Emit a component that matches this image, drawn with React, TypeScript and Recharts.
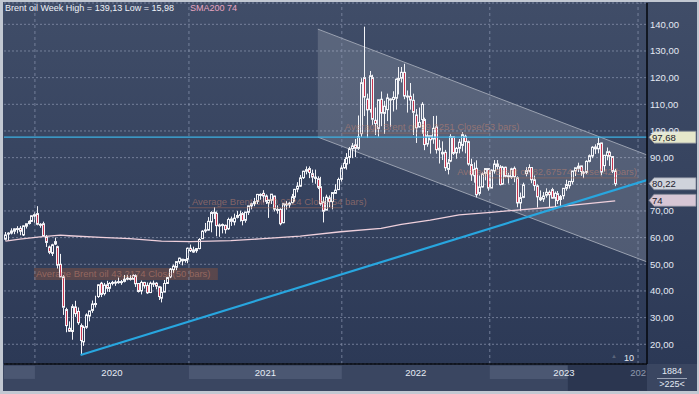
import React from 'react';
import {
  ComposedChart, Bar, Line, Area, XAxis, YAxis, CartesianGrid, ReferenceLine, ReferenceArea,
} from 'recharts';

// weekly candles [open, high, low, close], first week = 21 Oct 2019
const W2019 = [
  [59.4, 62.1, 58.9, 61.0], [61.5, 62.0, 58.9, 61.7], [61.7, 63.5, 61.2, 62.5], [62.4, 63.5, 61.3, 63.3],
  [63.3, 64.3, 61.6, 63.4], [63.5, 64.4, 60.9, 62.4], [61.0, 64.6, 60.6, 64.4], [64.3, 65.3, 63.4, 65.2],
  [65.3, 66.5, 64.9, 66.1], [66.1, 68.3, 65.9, 68.2], [68.1, 69.5, 65.6, 68.6],
];
const W2020 = [
  [69.0, 71.8, 64.6, 65.0], [65.0, 65.4, 63.7, 64.9], [65.2, 66.0, 60.3, 60.7], [60.2, 61.0, 56.5, 58.2],
  [56.5, 57.0, 53.8, 54.5], [54.1, 57.7, 53.1, 57.3], [57.6, 60.0, 57.2, 58.5], [56.6, 57.0, 48.4, 49.7],
  [50.0, 53.9, 45.2, 45.3], [45.3, 45.9, 31.0, 33.9], [33.0, 33.7, 24.5, 27.0], [26.0, 28.6, 24.6, 24.9],
  [24.8, 35.0, 21.7, 34.1], [34.0, 36.3, 30.3, 31.5], [32.3, 33.8, 27.3, 28.1], [27.0, 27.8, 15.98, 21.4],
  [20.9, 27.0, 19.4, 26.4], [26.4, 31.6, 25.8, 31.0], [30.6, 32.6, 28.6, 32.5], [32.7, 36.4, 31.8, 35.1],
  [34.9, 38.2, 33.8, 35.3], [37.9, 42.5, 37.4, 42.3], [42.9, 43.4, 37.7, 38.7], [39.0, 43.0, 38.3, 42.2],
  [42.3, 43.8, 39.7, 41.0], [41.0, 43.3, 39.6, 42.8], [42.9, 43.8, 42.1, 43.2], [43.3, 44.0, 41.9, 43.1],
  [43.5, 45.0, 42.7, 43.3], [43.3, 44.1, 42.3, 43.5], [43.6, 46.0, 43.2, 44.4], [44.8, 45.9, 44.0, 44.8],
  [44.7, 45.9, 43.9, 44.4], [44.4, 46.2, 44.3, 45.8], [45.7, 46.2, 41.5, 42.7], [42.8, 42.9, 39.4, 39.8],
  [40.0, 43.9, 38.7, 43.2], [43.2, 43.4, 40.9, 41.9], [42.1, 43.2, 38.9, 39.3], [39.4, 43.5, 39.2, 42.9],
  [42.9, 43.9, 41.5, 42.9], [42.9, 43.3, 40.6, 41.8], [41.6, 41.9, 36.6, 37.9], [37.3, 41.6, 35.7, 39.5],
  [39.6, 44.1, 39.5, 42.8], [42.8, 45.3, 42.6, 45.0], [45.3, 48.6, 44.8, 48.2], [48.0, 49.9, 46.7, 49.3],
  [48.9, 50.8, 47.8, 51.0], [50.9, 52.5, 50.1, 52.3], [51.9, 52.0, 49.6, 51.3], [51.4, 51.9, 50.6, 51.8],
];
const W2021 = [
  [51.8, 56.3, 50.4, 56.0], [56.0, 57.4, 54.6, 55.1], [54.6, 56.6, 54.3, 55.4], [55.1, 56.1, 54.3, 55.9],
  [55.9, 59.8, 55.6, 59.3], [59.6, 62.8, 59.6, 62.4], [62.8, 65.5, 61.8, 62.9], [62.8, 67.7, 62.6, 66.1],
  [65.9, 69.9, 62.0, 69.4], [69.5, 71.4, 67.0, 69.2], [69.1, 69.8, 60.5, 64.5], [64.7, 65.3, 60.3, 64.6],
  [64.7, 65.3, 61.6, 64.9], [64.6, 64.9, 61.5, 63.0], [63.3, 67.5, 62.9, 66.8], [67.0, 67.9, 64.4, 66.1],
  [65.9, 69.0, 64.6, 67.3], [67.6, 70.0, 67.2, 68.3], [68.5, 70.1, 66.0, 68.7], [69.0, 69.6, 64.6, 66.4],
  [66.5, 69.6, 65.6, 69.6], [69.5, 72.0, 68.5, 71.9], [71.9, 73.1, 70.6, 72.7], [72.7, 74.9, 71.8, 73.5],
  [73.6, 76.4, 72.6, 76.2], [75.9, 76.6, 74.2, 76.2], [76.6, 77.8, 73.2, 75.6], [75.6, 76.2, 72.6, 73.6],
  [73.0, 74.2, 67.4, 74.1], [74.0, 76.3, 72.6, 76.3], [75.6, 75.7, 69.8, 70.7], [70.2, 72.1, 69.0, 70.6],
  [70.6, 71.0, 64.6, 65.2], [65.6, 72.1, 65.4, 72.7], [72.6, 73.7, 70.5, 72.6], [72.3, 73.4, 71.1, 72.9],
  [73.1, 76.4, 72.8, 75.3], [75.2, 78.3, 73.5, 78.1], [78.2, 80.8, 77.0, 79.3], [79.3, 83.5, 79.0, 82.4],
  [82.5, 85.1, 82.0, 84.9], [84.9, 86.7, 83.7, 85.5], [85.9, 86.7, 82.3, 84.4], [84.0, 85.5, 80.6, 82.7],
  [82.7, 85.5, 80.2, 82.2], [82.1, 83.0, 78.2, 78.9], [79.1, 82.8, 72.0, 72.7], [73.4, 75.3, 65.7, 69.9],
  [70.3, 76.1, 70.3, 75.2], [74.9, 75.8, 71.4, 73.5], [73.5, 76.9, 70.6, 76.9], [76.6, 80.0, 76.4, 77.8],
];
const W2022 = [
  [78.0, 82.5, 77.9, 81.8], [81.9, 87.2, 80.9, 86.1], [86.2, 89.5, 85.8, 87.9], [87.6, 91.7, 85.5, 90.0],
  [90.1, 94.0, 87.7, 93.3], [93.4, 95.5, 89.8, 94.4], [94.8, 97.0, 90.2, 93.5], [93.5, 105.8, 92.9, 97.9],
  [99.0, 119.8, 97.8, 118.1], [120.0, 139.13, 105.6, 112.7], [112.0, 114.0, 97.4, 107.9], [108.0, 122.5, 106.9, 120.7],
  [120.0, 121.1, 102.3, 104.4], [104.0, 108.8, 98.5, 102.8], [101.0, 111.8, 97.9, 111.7], [111.9, 114.8, 101.8, 106.7],
  [106.6, 111.3, 98.9, 109.3], [108.0, 114.0, 103.7, 112.4], [112.0, 112.2, 101.6, 111.6], [111.8, 114.9, 107.3, 112.6],
  [112.3, 119.7, 108.0, 119.4], [119.0, 124.0, 113.7, 119.7], [119.8, 124.0, 118.2, 122.0], [122.0, 125.2, 111.9, 113.1],
  [113.0, 115.2, 106.9, 113.1], [113.0, 118.0, 108.0, 111.6], [111.5, 114.0, 98.5, 107.0], [106.0, 108.2, 95.5, 101.2],
  [101.5, 108.8, 101.3, 103.2], [104.3, 110.8, 98.9, 110.0], [104.3, 105.0, 92.8, 94.9], [95.1, 100.0, 94.1, 98.2],
  [98.2, 98.2, 91.5, 96.7], [97.0, 105.6, 95.2, 101.0], [101.5, 105.7, 91.5, 93.0], [93.5, 96.7, 87.8, 92.8],
  [92.0, 96.1, 89.1, 91.4], [92.0, 92.9, 85.0, 86.2], [85.6, 89.5, 83.7, 88.0], [88.7, 98.8, 88.3, 97.9],
  [97.8, 98.0, 91.0, 91.6], [91.8, 94.0, 89.6, 93.5], [93.5, 97.0, 91.6, 95.8], [94.6, 99.6, 92.3, 98.6],
  [98.0, 98.6, 91.6, 96.0], [96.0, 96.4, 87.0, 87.6], [87.4, 89.6, 81.3, 83.6], [83.2, 88.2, 80.6, 85.6],
  [86.0, 89.0, 75.1, 76.1], [76.6, 83.3, 75.8, 79.0], [79.0, 84.5, 78.8, 83.9], [84.1, 86.0, 81.5, 85.9],
];
const W2023 = [
  [85.9, 86.1, 77.6, 78.6], [78.6, 85.6, 78.6, 85.3], [85.0, 89.1, 84.0, 87.6], [87.6, 89.1, 85.5, 86.7],
  [86.5, 87.2, 79.6, 79.9], [80.1, 86.9, 79.8, 86.4], [86.4, 86.6, 82.6, 83.0], [83.0, 84.3, 80.3, 83.2],
  [82.7, 86.2, 82.0, 85.8], [86.0, 86.7, 80.8, 82.8], [82.5, 83.0, 71.4, 73.0], [73.0, 76.9, 70.1, 75.0],
  [75.1, 80.6, 74.8, 79.8], [84.0, 86.4, 83.0, 85.1], [85.0, 87.5, 84.5, 86.3], [86.3, 86.4, 80.4, 81.7],
  [81.7, 83.3, 77.6, 79.5], [79.4, 80.0, 71.3, 75.3], [75.0, 77.7, 73.7, 74.2], [74.5, 77.1, 73.4, 75.6],
  [75.9, 78.5, 75.0, 77.0], [77.0, 77.7, 71.4, 76.1], [78.0, 78.7, 74.6, 74.8], [74.8, 77.3, 71.6, 76.6],
  [76.5, 77.5, 72.6, 73.9], [74.3, 76.0, 71.8, 75.4], [75.7, 78.5, 74.4, 78.5], [78.5, 81.7, 77.6, 79.9],
  [79.5, 81.1, 78.4, 81.1], [81.0, 84.6, 80.0, 85.0], [85.0, 86.2, 83.1, 86.2], [86.0, 88.1, 84.6, 86.8],
  [86.9, 87.0, 83.2, 84.8], [84.5, 85.0, 82.3, 84.5], [84.5, 89.0, 83.9, 88.6], [88.6, 91.2, 88.2, 90.7],
  [90.6, 94.3, 89.8, 93.9], [94.0, 95.0, 91.4, 93.3], [93.3, 97.68, 91.6, 95.3], [95.5, 95.6, 83.4, 84.6],
  [87.0, 91.0, 84.8, 90.9], [90.8, 93.8, 89.0, 92.2], [92.0, 92.6, 86.9, 90.5], [90.4, 90.6, 84.2, 84.9],
  [85.0, 85.8, 79.3, 80.22],
];

const CANDLES = [...W2019, ...W2020, ...W2021, ...W2022, ...W2023].map(([o, h, l, c], i) => ({ i, o, h, l, c }));

// SMA200
const SMA200 = [
  { i: 0, v: 58.7 }, { i: 5, v: 59.4 }, { i: 12, v: 60.3 }, { i: 19, v: 60.9 }, { i: 22, v: 60.7 },
  { i: 33, v: 60.1 }, { i: 43, v: 59.6 }, { i: 54, v: 58.7 }, { i: 64, v: 58.5 }, { i: 78, v: 58.9 },
  { i: 88, v: 59.5 }, { i: 102, v: 60.6 }, { i: 116, v: 62.2 }, { i: 130, v: 63.5 }, { i: 137, v: 65.0 },
  { i: 147, v: 66.6 }, { i: 157, v: 68.5 }, { i: 168, v: 69.5 }, { i: 178, v: 70.4 }, { i: 189, v: 71.4 },
  { i: 199, v: 72.5 }, { i: 211, v: 73.8 },
];

const TREND = [{ i: 26, v: 15.98 }, { i: 222, v: 81.6 }];
const CHANNEL = [{ i: 108.1, r: [97.7, 138.2] }, { i: 222, r: [50.9, 91.0] }];

const Y_TICKS = [20, 30, 40, 50, 60, 70, 80, 90, 100, 110, 120, 130, 140];
const HIDDEN_TICKS = [80]; // covered by the last-close box
const YEAR_EDGES = [10.2, 63.5, 116.4, 167.6, 218.9];
const YEAR_MIDS = [36.85, 89.95, 142, 193.25, 222];
const YEAR_LABELS = ['2020', '2021', '2022', '2023', '202'];
const AXIS_BANDS = [[-0.5, 10.2], [63.5, 116.4], [167.6, 194.6]];

const AVG_TEXT = [
  'Average Brent oil 43,2174 Close(50 bars)',
  'Average Brent oil 70,9224 Close(54 bars)',
  'Average Brent oil 99,2251 Close(53 bars)',
  'Average Brent oil 82,67574 Close(42 bars)',
];
const AVG_VALUE = [44.1, 71.2, 99.2, 82.4];
const AVG_FROM = [9.9, 63.5, 116.4, 167.6];
const AVG_TO = [73.5, 116.4, 167.6, 218.9];

const LAST_HIGH = 97.68;
const LAST_CLOSE = 80.22;
const SMA_LAST = 74;

const FONT = '"Liberation Sans", Arial, sans-serif';
const WHITE = '#f3f4f8';

const Candle = (p: any) => {
  const { x, y, width, height, payload } = p;
  if (!payload) return null;
  const { o, h, l, c } = payload;
  const top = Math.min(y, y + height);
  const span = Math.abs(height);
  const py = (v: number) => (h === l ? top : top + ((h - v) / (h - l)) * span);
  const cx = Math.round(x + width / 2);
  const b1 = py(Math.max(o, c));
  const b2 = py(Math.min(o, c));
  const up = c >= o;
  return (
    <g>
      <line x1={cx + 0.5} x2={cx + 0.5} y1={top} y2={b1} stroke={WHITE} strokeWidth={1} />
      <line x1={cx + 0.5} x2={cx + 0.5} y1={b2} y2={top + span} stroke={WHITE} strokeWidth={1} />
      <rect x={cx - 0.5} y={b1} width={2} height={Math.max(b2 - b1, 1)}
        fill={up ? 'none' : '#c7354f'} stroke={WHITE} strokeWidth={1} />
    </g>
  );
};

const XTick = (p: any) => {
  const last = p.index === YEAR_LABELS.length - 1;
  return (
    <text x={last ? p.x - 1 : p.x} y={p.y + 10} textAnchor={last ? 'end' : 'middle'}
      fill={last ? '#8e98ad' : '#e6ebf4'} fontSize={9.5} fontFamily={FONT}>
      {YEAR_LABELS[p.index]}
    </text>
  );
};

const YTick = (p: any) => {
  const v = p.payload.value;
  if (HIDDEN_TICKS.includes(v)) return null;
  return (
    <text x={p.x} y={p.y + 3.5} textAnchor="start" fill="#e4e9f3" fontSize={9.5} fontFamily={FONT}>
      {`${v},00`}
    </text>
  );
};

const valueBox = (text: string, fill: string) => (p: any) => {
  const vb = p.viewBox;
  const x0 = vb.x + vb.width + 2;
  const cy = vb.y;
  return (
    <g>
      <polygon points={`${x0},${cy} ${x0 + 5},${cy - 6} ${x0 + 47},${cy - 6} ${x0 + 47},${cy + 6} ${x0 + 5},${cy + 6}`}
        fill={fill} stroke="#7d8494" strokeWidth={0.8} />
      <text x={x0 + 3} y={cy + 3.5} fill="#1c202c" fontSize={9.5} fontFamily={FONT}>{text}</text>
    </g>
  );
};

const avgLabel = (k: number) => (p: any) => {
  const vb = p.viewBox;
  const right = k === 3;
  const tx = right ? vb.x + vb.width - 1 : vb.x + (k === 0 ? 1 : 3);
  return (
    <text x={tx} y={vb.y - 3} textAnchor={right ? 'end' : 'start'} fill="#c58470" fillOpacity={0.55}
      fontSize={9.5} fontFamily={FONT}>{AVG_TEXT[k]}</text>
  );
};

export default function App() {
  return (
    <div style={{ position: 'absolute', left: 0, top: 0, width: 699, height: 394, background: '#c2c8d2', overflow: 'hidden' }}>
      <div style={{
        position: 'absolute', left: 3, top: 2, width: 694, height: 389,
        background: 'linear-gradient(to bottom, #404d68 0px, #2c3956 362px, #3a4661 362px, #3a4661 100%)',
      }}>
        <ComposedChart width={694} height={389} data={CANDLES} margin={{ top: 1, right: 0, bottom: 0, left: 1 }}>
          {AXIS_BANDS.map(([a, b], k) => (
            <ReferenceArea key={`ab${k}`} x1={a} x2={b} y1={7.0} y2={11.9} ifOverflow="visible"
              fill="#4b5772" fillOpacity={1} stroke="none" />
          ))}
          <ReferenceArea x1={194.6} x2={222} y1={2.6} y2={12.4} ifOverflow="visible" fill="#2b3650" fillOpacity={1} stroke="none" />
          <CartesianGrid vertical={false} stroke="#8792ab" strokeDasharray="2 2" strokeOpacity={0.75} />
          {YEAR_EDGES.map((e) => (
            <ReferenceLine key={`g${e}`} x={e} stroke="#8792ab" strokeDasharray="3 3" strokeOpacity={0.75} />
          ))}
          <Area data={CHANNEL} dataKey="r" type="linear" fill="#ffffff" fillOpacity={0.15}
            stroke="#9aa1b0" strokeWidth={1} dot={false} activeDot={false} isAnimationActive={false} />
          <ReferenceArea x1={AVG_FROM[0]} x2={AVG_TO[0]} y1={AVG_VALUE[0]} y2={48.6}
            fill="#7a4e42" fillOpacity={0.55} stroke="none" />
          {AVG_TEXT.map((t, k) => (
            <ReferenceLine key={`avg${k}`}
              segment={[{ x: k === 0 ? 10.2 : AVG_FROM[k], y: AVG_VALUE[k] }, { x: k === 0 ? 63.5 : AVG_TO[k], y: AVG_VALUE[k] }]}
              stroke="#a06a58" strokeOpacity={k === 0 ? 0 : 0.55} label={avgLabel(k)} />
          ))}
          <Line data={SMA200} dataKey="v" type="linear" stroke="#efd0dc" strokeWidth={1.3}
            dot={false} activeDot={false} isAnimationActive={false} />
          <Bar dataKey={(d: any) => [d.l, d.h]} barSize={3} shape={Candle} isAnimationActive={false} />
          <Line data={TREND} dataKey="v" type="linear" stroke="#28a6df" strokeWidth={2.2}
            dot={false} activeDot={false} isAnimationActive={false} />
          <XAxis type="number" dataKey="i" domain={[-0.5, 222]} allowDataOverflow ticks={YEAR_MIDS}
            tick={<XTick />} tickLine={false} tickSize={0} height={27}
            axisLine={{ stroke: '#05070c', strokeWidth: 1.5 }} interval={0} />
          <YAxis orientation="right" width={50} domain={[12.6, 148]} allowDataOverflow ticks={Y_TICKS}
            tickLine={false} tickSize={0} tickMargin={3} tick={<YTick />}
            axisLine={{ stroke: '#05070c', strokeWidth: 1.5 }} interval={0} />
          <ReferenceLine y={LAST_HIGH} stroke="#3cb2e4" strokeWidth={1.3}
            label={valueBox('97,68', '#e6e8cb')} />
          <ReferenceLine y={LAST_CLOSE} stroke="none" strokeOpacity={0}
            label={valueBox('80,22', '#cfd3db')} />
          <ReferenceLine y={SMA_LAST} stroke="none" strokeOpacity={0}
            label={valueBox('74', '#d7c6d5')} />
        </ComposedChart>
      </div>
      <div style={{ position: 'absolute', left: 5, top: 3, fontFamily: FONT, fontSize: 9, color: '#eef1f7', whiteSpace: 'nowrap' }}>
        Brent oil Week High = 139,13 Low = 15,98
      </div>
      <div style={{ position: 'absolute', left: 190, top: 3, fontFamily: FONT, fontSize: 9, color: '#e9a5c0', whiteSpace: 'nowrap' }}>
        SMA200 74
      </div>
      <div style={{ position: 'absolute', left: 611, top: 353, fontFamily: FONT, fontSize: 6, color: '#59647a' }}>▲</div>
      <div style={{ position: 'absolute', left: 624, top: 353, fontFamily: FONT, fontSize: 9, color: '#e4e9f3' }}>10</div>
      <div style={{ position: 'absolute', left: 649, top: 366, width: 46, textAlign: 'center', fontFamily: FONT, fontSize: 9, color: '#e4e9f3', lineHeight: '11px' }}>
        <div style={{ borderBottom: '1px solid #9aa3b5', margin: '0 8px', paddingBottom: 1 }}>1884</div>
        <div>&gt;225&lt;</div>
      </div>
    </div>
  );
}
